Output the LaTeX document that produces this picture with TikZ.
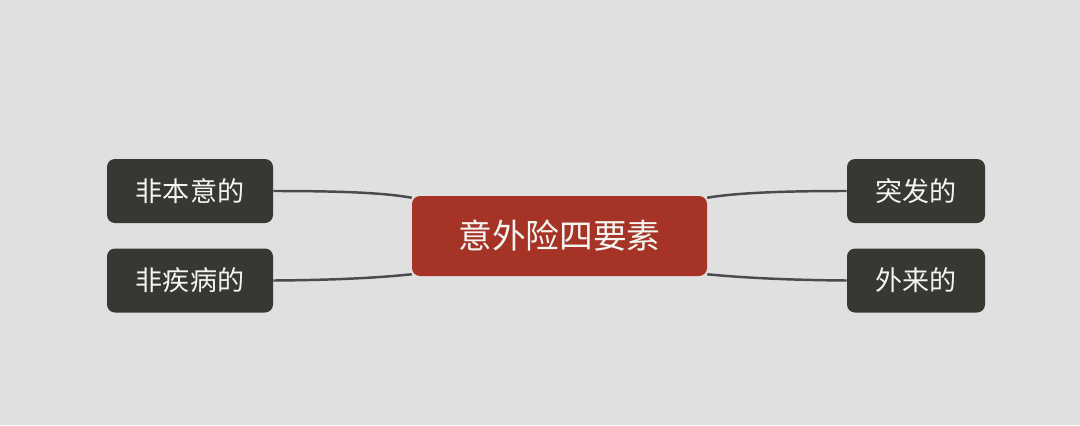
\documentclass[tikz,border=0pt]{standalone}
\usepackage{fontspec}
\setmainfont{Noto Sans CJK SC}
\definecolor{bg}{HTML}{E0E0E0}
\definecolor{leaf}{HTML}{383832}
\definecolor{root}{HTML}{A53427}
\definecolor{edge}{HTML}{4A4A50}
\definecolor{txt}{HTML}{F4F4F0}
\begin{document}
\begin{tikzpicture}[x=0.75pt,y=-0.75pt,
  leafbox/.style={fill=leaf,rounded corners=6pt,text=txt,font=\fontsize{20.3}{24}\selectfont,minimum height=48pt,inner sep=0pt},
  rootbox/.style={fill=root,rounded corners=6pt,text=txt,font=\fontsize{25.3}{28}\selectfont,minimum width=221.25pt,minimum height=60pt,inner sep=0pt},
  link/.style={draw=edge,line width=1.85pt}]
\fill[bg] (0,0) rectangle (1080,425);
\useasboundingbox (0,0) rectangle (1080,425);
\node[rootbox] (C) at (559.5,236) {意外险四要素};
\node[leafbox,minimum width=124.5pt] (L1) at (190,191) {非本意的};
\node[leafbox,minimum width=124.5pt] (L2) at (190,280.5) {非疾病的};
\node[leafbox,minimum width=103.5pt] (R1) at (916,191) {突发的};
\node[leafbox,minimum width=103.5pt] (R2) at (916,280.5) {外来的};
\draw[link] (L1.east) .. controls (345,191) and (385,193) .. ([yshift=-1.5pt]C.north west);
\draw[link] (L2.east) .. controls (345,280) and (385,277) .. ([yshift=1.5pt]C.south west);
\draw[link] (R1.west) .. controls (780,191) and (735,193) .. ([yshift=-1.5pt]C.north east);
\draw[link] (R2.west) .. controls (780,280) and (735,277) .. ([yshift=1.5pt]C.south east);
\end{tikzpicture}
\end{document}
